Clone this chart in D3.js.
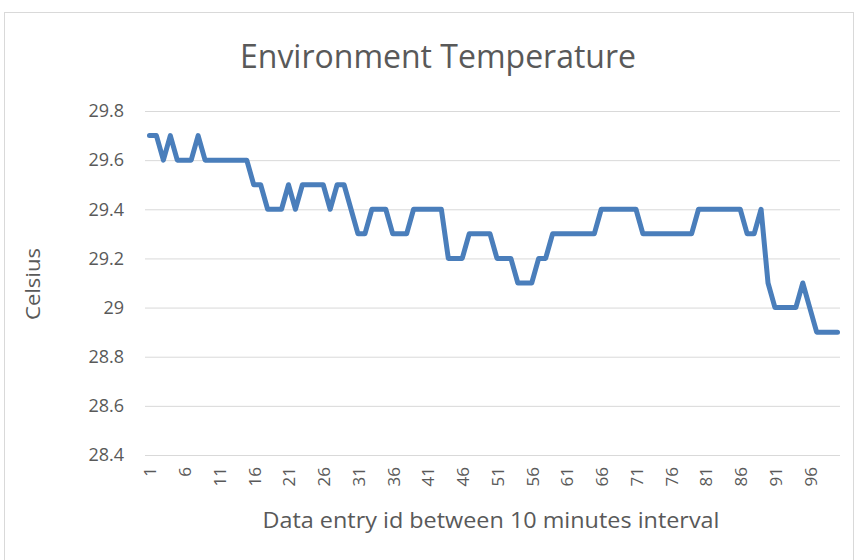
<!DOCTYPE html>
<html><head><meta charset="utf-8">
<script src="https://cdn.jsdelivr.net/npm/d3@7"></script>
<style>body{margin:0;background:#fff}svg{display:block}text{font-family:"Open Sans",sans-serif;fill:#595959}</style>
</head><body>
<script>
const title = "Environment Temperature";
const xTitle = "Data entry id between 10 minutes interval";
const yTitle = "Celsius";
const ids = d3.range(1, 101);
const temps = [
 29.7,29.7,29.6,29.7,29.6,29.6,29.6,29.7,29.6,29.6,
 29.6,29.6,29.6,29.6,29.6,29.5,29.5,29.4,29.4,29.4,
 29.5,29.4,29.5,29.5,29.5,29.5,29.4,29.5,29.5,29.4,
 29.3,29.3,29.4,29.4,29.4,29.3,29.3,29.3,29.4,29.4,
 29.4,29.4,29.4,29.2,29.2,29.2,29.3,29.3,29.3,29.3,
 29.2,29.2,29.2,29.1,29.1,29.1,29.2,29.2,29.3,29.3,
 29.3,29.3,29.3,29.3,29.3,29.4,29.4,29.4,29.4,29.4,
 29.4,29.3,29.3,29.3,29.3,29.3,29.3,29.3,29.3,29.4,
 29.4,29.4,29.4,29.4,29.4,29.4,29.3,29.3,29.4,29.1,
 29.0,29.0,29.0,29.0,29.1,29.0,28.9,28.9,28.9,28.9
];
const yTicks = [28.4,28.6,28.8,29.0,29.2,29.4,29.6,29.8];
const xTickLabels = ids.filter(d => (d - 1) % 5 === 0);

const W = 858, H = 560;
const m = {left:145, right:18, top:111, bottom:105};
const svg = d3.select("body").append("svg").attr("width", W).attr("height", H);

svg.append("rect").attr("x",4.5).attr("y",12.5).attr("width",849).attr("height",560)
  .attr("fill","none").attr("stroke","#d9d9d9");

const x = d3.scaleBand().domain(ids).range([m.left + 1, W - m.right + 1]);
const y = d3.scaleLinear().domain([28.4, 29.8]).range([H - m.bottom, m.top]);

svg.append("g").selectAll("line").data(yTicks).join("line")
  .attr("x1", m.left).attr("x2", W - m.right)
  .attr("y1", d => y(d) + 0.5).attr("y2", d => y(d) + 0.5)
  .attr("stroke", "#d9d9d9").attr("stroke-width", 1);

const yAxis = svg.append("g").attr("transform", `translate(${m.left},0)`)
  .call(d3.axisLeft(y).tickValues(yTicks).tickSize(0).tickPadding(21)
    .tickFormat(d => d3.format("")(+d.toFixed(1))));
yAxis.select(".domain").remove();
yAxis.selectAll("text").style("font-size","18px").style("fill","#595959")
  .style("font-family","'Open Sans',sans-serif");

const xAxis = svg.append("g").attr("transform", `translate(1,${H - m.bottom})`)
  .call(d3.axisBottom(x).tickValues(xTickLabels).tickSize(0).tickPadding(0));
xAxis.select(".domain").remove();
xAxis.selectAll("text")
  .attr("transform","rotate(-90)").attr("x",-12).attr("y",0).attr("dy","0.35em")
  .style("text-anchor","end").style("font-size","17px").style("fill","#595959")
  .style("font-family","'Open Sans',sans-serif");

const line = d3.line().x((d,i) => x(ids[i]) + x.bandwidth()/2).y(d => y(d));
svg.append("path").datum(temps).attr("d", line)
  .attr("fill","none").attr("stroke","#4a7ebb").attr("stroke-width",5)
  .attr("stroke-linejoin","round").attr("stroke-linecap","round");

svg.append("text").attr("x", 438).attr("y", 68).attr("text-anchor","middle")
  .style("font-size","32px").text(title);
svg.append("text").attr("x", 491).attr("y", 528).attr("text-anchor","middle")
  .attr("textLength", 457).attr("lengthAdjust","spacingAndGlyphs")
  .style("font-size","21px").text(xTitle);
svg.append("text").attr("transform","translate(40,284) rotate(-90)").attr("text-anchor","middle")
  .attr("textLength", 72).attr("lengthAdjust","spacingAndGlyphs")
  .style("font-size","20px").text(yTitle);
</script>
</body></html>
